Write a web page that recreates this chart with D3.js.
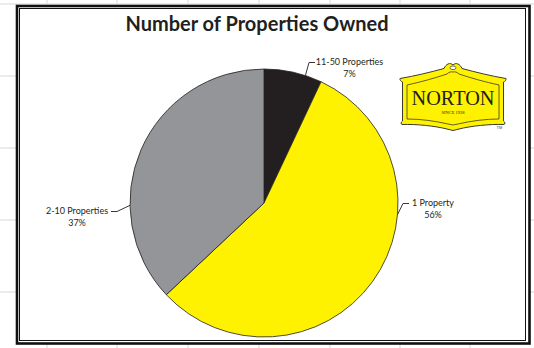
<!DOCTYPE html>
<html>
<head>
<meta charset="utf-8">
<script src="https://cdn.jsdelivr.net/npm/d3@7"></script>
<style>
  html, body { margin: 0; padding: 0; background: #fff; }
  svg { display: block; }
</style>
</head>
<body>
<svg id="chart" width="534" height="348"></svg>
<script>
// Survey breakdown: number of properties owned
const categories = ["11-50 Properties", "1 Property", "2-10 Properties"];
const shares = [7, 56, 37];
const sliceColors = ["#231f20", "#fff200", "#939598"];

// Callout placement for each slice label (anchor angle on the rim, in degrees,
// plus elbow and text position)
const calloutAngles = [18, 95, 269];
const calloutElbows = [[309, 62.5], [403, 203.5], [117, 211.5]];
const calloutSides = [1, 1, -1];
const calloutTextX = [349.5, 433, 77];

const W = 534, H = 348;
const svg = d3.select("#chart");

// faint worksheet grid behind the framed chart
const gridX = [47, 117, 188, 259, 330, 400, 470];
const gridY = [4, 76, 148, 220, 292];
const grid = svg.append("g").attr("stroke", "#e4e4e4").attr("stroke-width", 1.5);
grid.selectAll("line.v").data(gridX).join("line")
  .attr("x1", d => d).attr("x2", d => d).attr("y1", 0).attr("y2", H);
grid.selectAll("line.h").data(gridY).join("line")
  .attr("x1", 0).attr("x2", W).attr("y1", d => d).attr("y2", d => d);

// double-rule frame
svg.append("rect").attr("x", 17).attr("y", 6).attr("width", 512.5).attr("height", 337.5)
  .attr("fill", "#fff").attr("stroke", "#111").attr("stroke-width", 2.6);
svg.append("rect").attr("x", 19.5).attr("y", 8.5).attr("width", 506).attr("height", 332)
  .attr("fill", "none").attr("stroke", "#111").attr("stroke-width", 1);

// title
svg.append("text")
  .attr("x", 257).attr("y", 30.5)
  .attr("text-anchor", "middle")
  .attr("font-family", "Lato, 'Open Sans', sans-serif")
  .attr("font-weight", 700)
  .attr("font-size", 20)
  .attr("fill", "#231f20")
  .text("Number of Properties Owned");

// pie
const cx = 264, cy = 203, R = 134;
const pie = d3.pie().sort(null).value(d => d.v);
const rows = categories.map((c, i) => ({ c, v: shares[i], i }));
const arcs = pie(rows);
const arc = d3.arc().innerRadius(0).outerRadius(R);

const g = svg.append("g").attr("transform", `translate(${cx},${cy})`);
g.selectAll("path").data(arcs).join("path")
  .attr("d", arc)
  .attr("fill", d => sliceColors[d.data.i])
  .attr("stroke", "#231f20")
  .attr("stroke-width", 0.8)
  .attr("stroke-linejoin", "round");

// callouts
const labels = svg.append("g")
  .attr("font-family", "Lato, 'Open Sans', sans-serif")
  .attr("font-size", 9)
  .attr("fill", "#231f20");

arcs.forEach(d => {
  const i = d.data.i;
  const a = calloutAngles[i] * Math.PI / 180;
  const px = cx + R * Math.sin(a), py = cy - R * Math.cos(a);
  const [ex, ey] = calloutElbows[i];
  const hx = ex + calloutSides[i] * 6;
  labels.append("path")
    .attr("d", `M${px},${py}L${ex},${ey}L${hx},${ey}`)
    .attr("fill", "none").attr("stroke", "#231f20").attr("stroke-width", 0.9);
  const t = labels.append("text").attr("text-anchor", "middle");
  t.append("tspan").attr("x", calloutTextX[i]).attr("y", ey + 2.5).text(d.data.c);
  t.append("tspan").attr("x", calloutTextX[i]).attr("y", ey + 14).text(d3.format(".0f")(d.data.v) + "%");
});

// brand sign
const logo = svg.append("g").attr("transform", "translate(401,63)");
const outer = "M1.5,19 C0,18.5 -1.5,17 -1,15.5 C14,13 30,9 43,5.5 C45,1 49,-1 52,2 C55,-1 59,1 61,5.5 " +
  "C74,9 90,13 105,15.5 C105.5,17 104,18.5 102.5,19 L102.5,58 C104,59 104.5,61 103,61.5 " +
  "C88,61 70,63 58,66 L52,67.5 L46,66 C34,63 16,61 1,61.5 C-0.5,61 0,59 1.5,58 Z";
const inner = "M6,22 C20,19 34,15 46,11 C48,9 50,8.5 52,9 C54,8.5 56,9 58,11 C70,15 84,19 98,22 " +
  "L98,56 C84,56 70,58 57,61 L52,62 L47,61 C34,58 20,56 6,56 Z";
logo.append("path").attr("d", outer)
  .attr("fill", "#fff200").attr("stroke", "#3a3a30").attr("stroke-width", 1);
logo.append("path").attr("d", inner)
  .attr("fill", "none").attr("stroke", "#3a3a30").attr("stroke-width", 0.8);
logo.append("ellipse").attr("cx", 52).attr("cy", 4.8).attr("rx", 3).attr("ry", 1.8)
  .attr("fill", "#fff").attr("stroke", "#3a3a30").attr("stroke-width", 0.7);
logo.append("text")
  .attr("x", 52).attr("y", 42)
  .attr("text-anchor", "middle")
  .attr("font-family", "'Liberation Serif', 'DejaVu Serif', serif")
  .attr("font-size", 20)
  .attr("textLength", 83).attr("lengthAdjust", "spacingAndGlyphs")
  .attr("fill", "#231f20")
  .text("NORTON");
logo.append("text")
  .attr("x", 52).attr("y", 51)
  .attr("text-anchor", "middle")
  .attr("font-family", "'Liberation Serif', serif")
  .attr("font-size", 4.6)
  .attr("textLength", 23).attr("lengthAdjust", "spacingAndGlyphs")
  .attr("fill", "#231f20")
  .text("SINCE 1928");
svg.append("text")
  .attr("x", 499.5).attr("y", 129)
  .attr("text-anchor", "middle")
  .attr("font-family", "'Liberation Sans', sans-serif")
  .attr("font-size", 4)
  .attr("fill", "#444")
  .text("TM");
</script>
</body>
</html>
